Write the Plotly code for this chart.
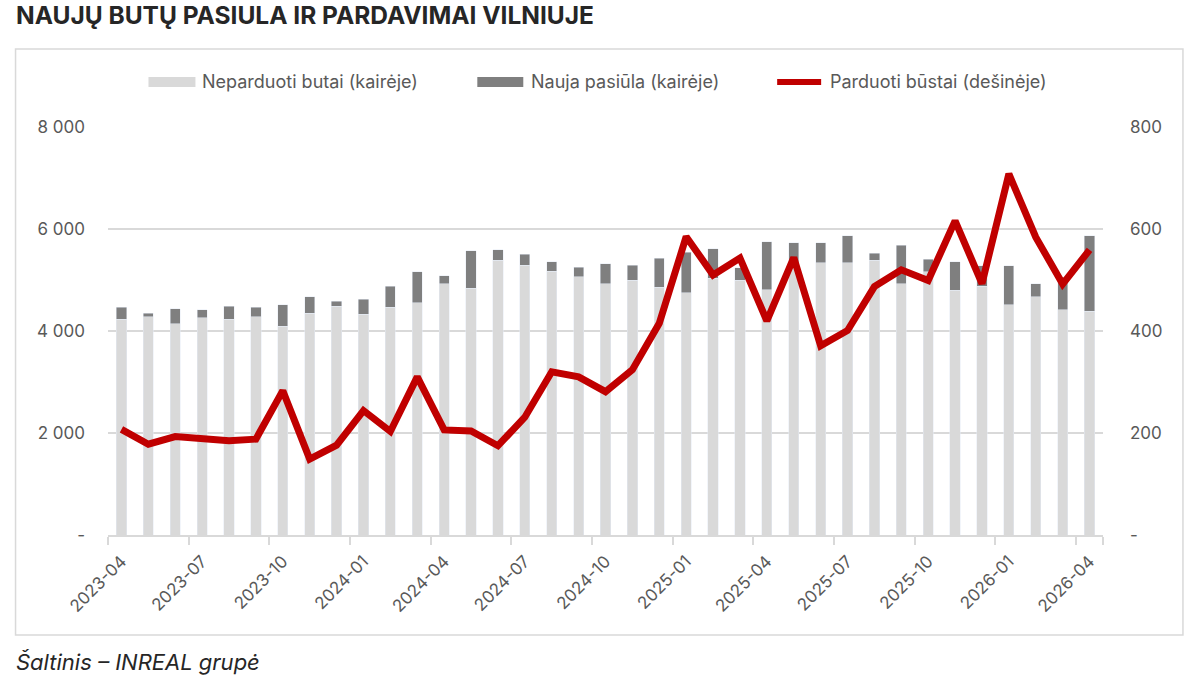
import plotly.graph_objects as go

months = ["2023-04","2023-05","2023-06","2023-07","2023-08","2023-09","2023-10","2023-11","2023-12",
          "2024-01","2024-02","2024-03","2024-04","2024-05","2024-06","2024-07","2024-08","2024-09",
          "2024-10","2024-11","2024-12","2025-01","2025-02","2025-03","2025-04","2025-05","2025-06",
          "2025-07","2025-08","2025-09","2025-10","2025-11","2025-12","2026-01","2026-02","2026-03","2026-04"]

unsold = [4235, 4281, 4143, 4261, 4235, 4281, 4098, 4347, 4490, 4327, 4465, 4555, 4928, 4837, 5386,
          5294, 5176, 5065, 4928, 5000, 4856, 4752, 5039, 5000, 4810, 5300, 5340, 5340, 5392, 4922,
          5157, 4804, 4880, 4510, 4673, 4412, 4392]

new_supply = [230, 66, 295, 157, 255, 184, 412, 326, 98, 300, 417, 608, 157, 732, 209, 209, 183, 183,
              392, 294, 575, 797, 575, 242, 945, 432, 392, 523, 131, 758, 248, 555, 400, 765, 249, 638, 1471]

sold = [207, 178, 193, 190, 185, 188, 283, 149, 176, 244, 203, 310, 206, 204, 175, 231, 320, 310, 281,
        324, 415, 585, 510, 543, 420, 544, 371, 401, 487, 520, 499, 616, 493, 708, 584, 492, 559]

left_ticks = [0, 2000, 4000, 6000, 8000]
left_text = ["-", "2 000", "4 000", "6 000", "8 000"]
right_ticks = [0, 200, 400, 600, 800]
right_text = ["-", "200", "400", "600", "800"]
x_ticks = months[::3]

names = ["Neparduoti butai (kairėje)", "Nauja pasiūla (kairėje)", "Parduoti būstai (dešinėje)"]
title = "NAUJŲ BUTŲ PASIULA IR PARDAVIMAI VILNIUJE"
source = "Šaltinis – INREAL grupė"

LIGHT = "#d9d9d9"
DARK = "#7f7f7f"
RED = "#c00000"
TXT = "#595959"
FONT = "Inter"

W, H = 1200, 675
ML, MR, MT, MB = 107.5, 97, 127, 140
PW = W - ML - MR
PH = H - MT - MB


def px(xp):
    return (xp - ML) / PW


def py(yp):
    return (H - MB - yp) / PH


fig = go.Figure()
fig.add_trace(go.Bar(x=months, y=unsold, name=names[0], marker_color=LIGHT, yaxis="y", showlegend=False))
fig.add_trace(go.Bar(x=months, y=new_supply, name=names[1], marker_color=DARK, yaxis="y", showlegend=False))
fig.add_trace(go.Scatter(x=months, y=sold, name=names[2], mode="lines", yaxis="y2",
                         line=dict(color=RED, width=7), showlegend=False))

shapes = [
    dict(type="rect", xref="paper", yref="paper", x0=px(15), x1=px(1183), y0=py(635), y1=py(49),
         line=dict(color="#d9d9d9", width=1.5), fillcolor="rgba(0,0,0,0)", layer="below"),
    dict(type="rect", xref="paper", yref="paper", x0=px(148), x1=px(195), y0=py(87), y1=py(77),
         line=dict(width=0), fillcolor=LIGHT),
    dict(type="rect", xref="paper", yref="paper", x0=px(477), x1=px(523), y0=py(87), y1=py(77),
         line=dict(width=0), fillcolor=DARK),
    dict(type="line", xref="paper", yref="paper", x0=px(777), x1=px(821), y0=py(82), y1=py(82),
         line=dict(color=RED, width=6)),
]

annotations = [
    dict(text=names[0], x=px(200), y=py(82), xref="paper", yref="paper", xanchor="left", yanchor="middle",
         showarrow=False, font=dict(family=FONT, size=18, color=TXT)),
    dict(text=names[1], x=px(529), y=py(82), xref="paper", yref="paper", xanchor="left", yanchor="middle",
         showarrow=False, font=dict(family=FONT, size=18, color=TXT)),
    dict(text=names[2], x=px(828), y=py(82), xref="paper", yref="paper", xanchor="left", yanchor="middle",
         showarrow=False, font=dict(family=FONT, size=18, color=TXT)),
    dict(text="<b>" + title + "</b>", x=px(13), y=py(15), xref="paper", yref="paper", xanchor="left",
         yanchor="middle", showarrow=False, font=dict(family=FONT, size=24.5, color="#262626")),
    dict(text="<i>" + source + "</i>", x=px(13), y=py(662), xref="paper", yref="paper", xanchor="left",
         yanchor="middle", showarrow=False, font=dict(family=FONT, size=22, color="#262626")),
]

fig.update_layout(
    width=W, height=H,
    margin=dict(l=ML, r=MR, t=MT, b=MB, pad=0),
    paper_bgcolor="white", plot_bgcolor="white",
    barmode="stack", bargap=0.62,
    shapes=shapes, annotations=annotations,
    font=dict(family=FONT, color=TXT),
    xaxis=dict(type="category", categoryorder="array", categoryarray=months,
               tickvals=x_ticks, ticktext=x_ticks, tickangle=-45,
               tickfont=dict(family=FONT, size=17, color=TXT),
               ticks="outside", ticklen=8, tickcolor="#d9d9d9", tickwidth=1.5, tickson="boundaries",
               ticklabelstandoff=8,
               showline=True, linecolor="#d9d9d9", linewidth=1.5, showgrid=False),
    yaxis=dict(range=[0, 8000], tickvals=left_ticks, ticktext=left_text,
               tickfont=dict(family=FONT, size=17, color=TXT), showgrid=True, gridcolor="#d9d9d9",
               gridwidth=1.5, zeroline=False, showline=False, ticks="", ticklabelstandoff=22),
    yaxis2=dict(range=[0, 800], tickvals=right_ticks, ticktext=right_text, overlaying="y", side="right",
                tickfont=dict(family=FONT, size=17, color=TXT), showgrid=False, zeroline=False,
                showline=False, ticks="", ticklabelstandoff=26),
)

fig.write_html("out.html")
